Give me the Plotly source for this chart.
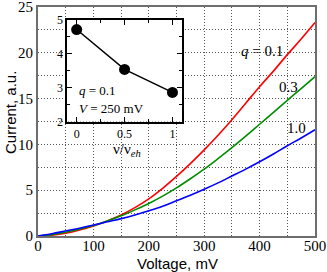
import plotly.graph_objects as go

voltage = [0, 25, 50, 75, 100, 125, 150, 175, 200, 225, 250, 275, 300, 325, 350, 375, 400, 425, 450, 475, 500]
current_q01 = [0, 0.1, 0.3, 0.65, 1.1, 1.65, 2.3, 3.1, 4.05, 5.2, 6.5, 7.9, 9.4, 11.0, 12.7, 14.5, 16.3, 18.0, 19.8, 21.5, 23.3]
current_q03 = [0, 0.15, 0.4, 0.75, 1.15, 1.65, 2.2, 2.85, 3.55, 4.35, 5.25, 6.25, 7.3, 8.45, 9.65, 10.9, 12.2, 13.5, 14.8, 16.1, 17.4]
current_q10 = [0, 0.25, 0.55, 0.85, 1.2, 1.55, 1.9, 2.3, 2.75, 3.25, 3.85, 4.45, 5.1, 5.8, 6.55, 7.3, 8.1, 8.95, 9.85, 10.7, 11.6]

nu_ratio = [0, 0.5, 1]
inset_current = [4.72, 3.54, 2.86]

x_ticks = [0, 100, 200, 300, 400, 500]
y_ticks = [0, 5, 10, 15, 20, 25]

serif = "Liberation Serif"
sans = "Liberation Sans"

W, H = 327, 272
ML, MR, MT, MB = 38, 12, 7, 36
PW, PH = W - ML - MR, H - MT - MB

fig = go.Figure()
for y, c in [(current_q01, "#ff0000"), (current_q03, "#008c00"), (current_q10, "#0000ff")]:
    fig.add_trace(go.Scatter(x=voltage, y=y, mode="lines", line=dict(color=c, width=1.6, shape="spline"),
                             xaxis="x", yaxis="y", showlegend=False))

fig.add_trace(go.Scatter(x=nu_ratio, y=inset_current, mode="lines+markers",
                         line=dict(color="black", width=1.5),
                         marker=dict(color="black", size=11),
                         xaxis="x2", yaxis="y2", showlegend=False, cliponaxis=False))

grid = dict(showgrid=True, gridcolor="#555555", griddash="1px,2px", gridwidth=1)
fig.update_layout(
    width=W, height=H,
    margin=dict(l=ML, r=MR, t=MT, b=MB),
    paper_bgcolor="white", plot_bgcolor="white",
    xaxis=dict(domain=[0, 1], range=[0, 500], tickmode="array", tickvals=x_ticks,
               showline=True, mirror=True, linecolor="#6e6e6e", linewidth=2,
               ticks="", zeroline=False, automargin=False, ticklabeloverflow="allow",
               ticklabelstandoff=-5,
               minor=dict(dtick=50, **grid),
               tickfont=dict(family=serif, size=15, color="black"),
               **grid),
    yaxis=dict(domain=[0, 1], range=[0, 25], tickmode="array", tickvals=y_ticks,
               showline=True, mirror=True, linecolor="#6e6e6e", linewidth=2,
               ticks="", zeroline=False, automargin=False, ticklabeloverflow="allow",
               minor=dict(dtick=2.5, **grid),
               tickfont=dict(family=serif, size=15, color="black"),
               **grid),
    xaxis2=dict(domain=[0.105, 0.52], anchor="y2", range=[-0.1, 1.1],
                tickvals=[0, 0.5, 1], ticktext=["0", "0.5", "1"],
                showline=True, mirror="ticks", linecolor="black", linewidth=1.5,
                ticks="inside", ticklen=5, tickcolor="black",
                minor=dict(dtick=0.25, ticks="inside", ticklen=3, tickcolor="black", showgrid=False),
                showgrid=False, zeroline=False, automargin=False,
                tickfont=dict(family=serif, size=12, color="black")),
    yaxis2=dict(domain=[0.5, 0.943], anchor="x2", range=[2, 5],
                tickvals=[2, 3, 4, 5],
                showline=True, mirror="ticks", linecolor="black", linewidth=1.5,
                ticks="inside", ticklen=5, tickcolor="black",
                minor=dict(dtick=0.5, ticks="inside", ticklen=3, tickcolor="black", showgrid=False),
                showgrid=False, zeroline=False, automargin=False,
                tickfont=dict(family=serif, size=12, color="black")),
)

annots = [
    dict(x=262, y=51, text="<i>q</i> = 0.1", size=15, fam=serif, anchor="center", angle=0),
    dict(x=288, y=87, text="0.3", size=15, fam=serif, anchor="center", angle=0),
    dict(x=296, y=128, text="1.0", size=15, fam=serif, anchor="center", angle=0),
    dict(x=77, y=91, text="<i>q</i> = 0.1", size=13, fam=serif, anchor="left", angle=0),
    dict(x=77, y=108, text="<i>V</i> = 250 mV", size=13, fam=serif, anchor="left", angle=0),
    dict(x=127, y=150, text="ν/ν<sub><i>eh</i></sub>", size=15, fam=serif, anchor="center", angle=0),
    dict(x=177, y=263, text="Voltage, mV", size=15, fam=sans, anchor="center", angle=0),
    dict(x=10, y=113, text="Current, a.u.", size=15, fam=sans, anchor="center", angle=-90),
]
for a in annots:
    fig.add_annotation(x=(a["x"] - ML) / PW, y=(H - MB - a["y"]) / PH, xref="paper", yref="paper",
                       text=a["text"], showarrow=False, xanchor=a["anchor"], yanchor="middle",
                       textangle=a["angle"],
                       font=dict(family=a["fam"], size=a["size"], color="black"))

fig.write_html("out.html", config={"displayModeBar": False},
               post_script="document.body.style.margin='0px';")
